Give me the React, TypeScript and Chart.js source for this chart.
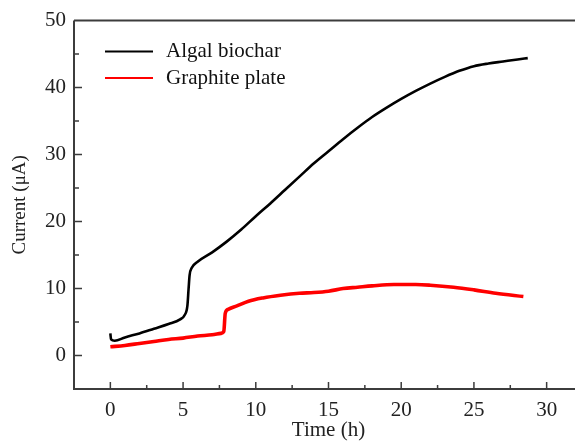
import React, { useEffect, useRef } from "react";
import { Chart, registerables } from "chart.js";

Chart.register(...registerables);

const seriesNames = ["Algal biochar", "Graphite plate"];

const timeBiochar = [0, 0.05, 0.3, 1, 2, 3, 4, 4.8, 5.1, 5.3, 5.38, 5.45, 5.6, 6, 7, 8, 9, 10, 11, 12, 13, 14, 15, 16, 17, 18, 19, 20, 21, 22, 23, 24, 25, 26, 27, 28, 28.7];
const currentBiochar = [3.3, 2.4, 2.2, 2.7, 3.3, 4.0, 4.7, 5.4, 6.0, 7.5, 10, 12, 13.1, 14, 15.4, 17.0, 18.8, 20.8, 22.7, 24.7, 26.7, 28.7, 30.5, 32.3, 34.0, 35.6, 37.0, 38.3, 39.5, 40.6, 41.6, 42.5, 43.2, 43.6, 43.9, 44.2, 44.4];

const timeGraphite = [0, 1, 2, 3, 4, 5, 6, 7, 7.6, 7.8, 7.9, 8.1, 8.7, 9.5, 10.5, 11.7, 13, 14, 15, 16, 17, 18, 19.5, 21, 22, 23.6, 25, 26.5, 28.4];
const currentGraphite = [1.3, 1.5, 1.8, 2.1, 2.4, 2.6, 2.9, 3.1, 3.3, 3.6, 6.3, 6.9, 7.4, 8.1, 8.6, 9.0, 9.3, 9.4, 9.6, 10.0, 10.2, 10.4, 10.6, 10.6, 10.5, 10.2, 9.8, 9.3, 8.8];

const xLabels = ["0", "5", "10", "15", "20", "25", "30"];
const yLabels = ["0", "10", "20", "30", "40", "50"];

const FONT = "'Liberation Serif', 'Times New Roman', serif";

const framePlugin = {
  id: "frame",
  afterDatasetsDraw(chart: any) {
    const { ctx, chartArea: a, scales } = chart;
    const x = scales.x;
    const y = scales.y;
    ctx.save();
    ctx.strokeStyle = "#3c3c3c";
    ctx.lineWidth = 2;
    ctx.beginPath();
    ctx.moveTo(a.left, a.top);
    ctx.lineTo(a.right + 20, a.top);
    ctx.moveTo(a.left, a.top);
    ctx.lineTo(a.left, a.bottom);
    ctx.lineTo(a.right + 20, a.bottom);
    ctx.stroke();
    ctx.lineWidth = 1.5;
    ctx.beginPath();
    x.ticks.forEach((t: any) => {
      const px = x.getPixelForValue(t.value);
      if (px <= a.left + 1 || px >= a.right - 1) return;
      const major = Math.abs(t.value % 5) < 1e-6;
      const len = major ? 7 : 4;
      ctx.moveTo(px, a.bottom);
      ctx.lineTo(px, a.bottom - len);
    });
    y.ticks.forEach((t: any) => {
      const py = y.getPixelForValue(t.value);
      if (py >= a.bottom - 1 || py <= a.top + 1) return;
      const major = Math.abs(t.value % 10) < 1e-6;
      const len = major ? 8 : 5;
      ctx.moveTo(a.left, py);
      ctx.lineTo(a.left + len, py);
    });
    ctx.stroke();

    // legend
    const rows = [51.5, 78];
    chart.data.datasets.forEach((ds: any, i: number) => {
      ctx.strokeStyle = ds.borderColor;
      ctx.lineWidth = 2.2;
      ctx.beginPath();
      ctx.moveTo(105, rows[i]);
      ctx.lineTo(153, rows[i]);
      ctx.stroke();
      ctx.fillStyle = "#111";
      ctx.font = `21px ${FONT}`;
      ctx.textBaseline = "middle";
      ctx.textAlign = "left";
      ctx.fillText(ds.label, 166, rows[i]);
    });
    ctx.restore();
  },
};

export default function App() {
  const ref = useRef<HTMLCanvasElement | null>(null);
  useEffect(() => {
    document.documentElement.style.overflow = "hidden";
    document.body.style.overflow = "hidden";
    const chart = new Chart(ref.current as HTMLCanvasElement, {
      type: "line",
      data: {
        datasets: [
          {
            label: seriesNames[0],
            data: timeBiochar.map((t, i) => ({ x: t, y: currentBiochar[i] })),
            borderColor: "#000000",
            borderWidth: 2.6,
            pointRadius: 0,
            cubicInterpolationMode: "monotone",
          },
          {
            label: seriesNames[1],
            data: timeGraphite.map((t, i) => ({ x: t, y: currentGraphite[i] })),
            borderColor: "#ff0000",
            borderWidth: 3.6,
            pointRadius: 0,
            cubicInterpolationMode: "monotone",
          },
        ],
      },
      options: {
        animation: false,
        responsive: true,
        maintainAspectRatio: false,
        layout: { padding: { top: 20, right: 17, left: 0, bottom: 0 } },
        plugins: { legend: { display: false }, tooltip: { enabled: false } },
        scales: {
          x: {
            type: "linear",
            min: -2.5,
            max: 32.5,
            grid: { display: false, drawTicks: false },
            border: { display: false },
            afterFit: (s: any) => {
              s.height = 54;
            },
            ticks: {
              stepSize: 2.5,
              padding: 9,
              autoSkip: false,
              maxRotation: 0,
              color: "#222",
              font: { family: FONT, size: 21 },
              callback: (v: any) => (xLabels.includes(String(v)) ? String(v) : ""),
            },
            title: {
              display: true,
              text: "Time (h)",
              color: "#222",
              font: { family: FONT, size: 21 },
              padding: { top: 0, bottom: 0 },
            },
          },
          y: {
            type: "linear",
            min: -5,
            max: 50,
            grid: { display: false, drawTicks: false },
            border: { display: false },
            afterFit: (s: any) => {
              s.width = 74;
            },
            ticks: {
              stepSize: 5,
              padding: 8,
              autoSkip: false,
              color: "#222",
              font: { family: FONT, size: 21 },
              callback: (v: any) => (yLabels.includes(String(v)) ? String(v) : ""),
            },
            title: {
              display: true,
              text: "Current (μA)",
              color: "#222",
              font: { family: FONT, size: 19 },
              padding: { top: 9, bottom: 0 },
            },
          },
        },
      },
      plugins: [framePlugin],
    });
    return () => chart.destroy();
  }, []);
  return (
    <div style={{ position: "absolute", left: 0, top: 0, width: 575, height: 443, overflow: "hidden", background: "#fff" }}>
      <div style={{ position: "relative", width: 600, height: 443 }}>
        <canvas ref={ref} />
      </div>
    </div>
  );
}
